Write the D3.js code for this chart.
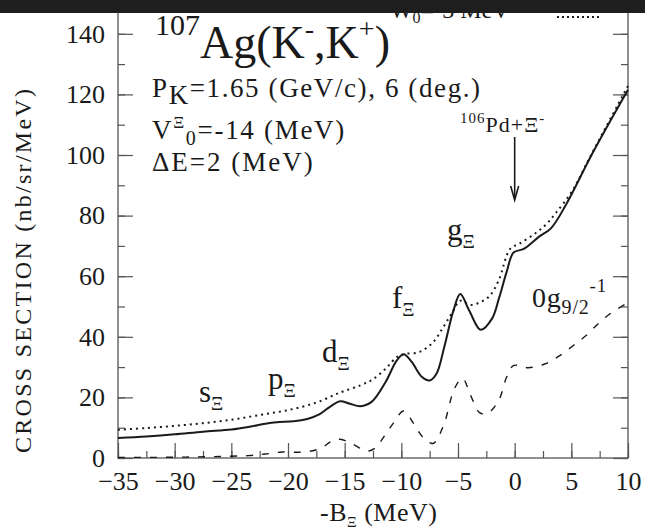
<!DOCTYPE html>
<html>
<head>
<meta charset="utf-8">
<script src="https://cdn.jsdelivr.net/npm/d3@7"></script>
<style>
  html, body { margin: 0; padding: 0; background: #fff; }
  svg { display: block; }
</style>
</head>
<body>
<svg id="chart" width="645" height="529"></svg>
<script>
// Ξ-hypernuclear production spectrum, 107Ag(K-,K+) at 1.65 GeV/c, 6 deg.
const xMajorTicks = [-35, -30, -25, -20, -15, -10, -5, 0, 5, 10];
const yMajorTicks = [0, 20, 40, 60, 80, 100, 120, 140];

// total spectrum (solid), W0 = -3 MeV (dotted), 0g9/2^-1 component (dashed)
const solidX = [-35, -32.5, -30, -27.5, -25, -23.4, -22, -21, -19.5, -18.3, -17.2, -16.3, -15.4, -14.6, -13.6, -12.6, -11.4, -10.4, -9.8, -9.1, -8.2, -7.5, -6.9, -6.2, -5.4, -4.8, -4.0, -3.0, -2.0, -1.4, -0.7, -0.1, 0.8, 2.1, 3.2, 4.5, 6.9, 10];
const solidY = [6.6, 7.1, 7.8, 8.7, 9.4, 10.3, 11.3, 11.8, 12.1, 12.9, 14.5, 16.9, 18.7, 18.0, 17.1, 18.6, 25.0, 32.2, 34.2, 31.8, 26.8, 25.6, 27.8, 36.8, 48.7, 54.1, 48.6, 42.3, 46.0, 52.5, 61.5, 67.8, 69.0, 72.9, 75.8, 83.4, 100.8, 121.5];

const dottedX = [-35, -32.5, -30, -27.5, -25, -22.5, -20, -17.5, -15.4, -13.6, -12.5, -11.3, -10.4, -9.7, -8.4, -7.2, -6.3, -5.5, -4.8, -3.9, -3.0, -2.2, -1.4, -0.4, 0.5, 1.8, 2.7, 3.6, 5.1, 6.7, 10];
const dottedY = [9.3, 9.9, 10.6, 11.5, 12.6, 14.2, 15.8, 18.3, 21.6, 24.0, 26.0, 29.8, 33.3, 34.3, 35.0, 38.2, 43.2, 48.0, 51.9, 50.5, 51.5, 53.5, 58.7, 69.0, 70.9, 74.1, 76.8, 80.7, 88.3, 99.7, 122.8];

const dashedX = [-35, -32, -29, -26, -23.5, -22, -20.5, -19, -17.8, -17, -16.2, -15.4, -14.3, -13, -12.3, -11.5, -10.7, -9.8, -8.9, -8.1, -7.2, -6.3, -5.3, -4.6, -3.9, -3.1, -2.4, -1.4, -0.7, -0.1, 1.2, 2.7, 3.9, 5.2, 6.3, 7.5, 8.6, 10];
const dashedY = [0.2, 0.2, 0.3, 0.5, 0.8, 1.3, 2.0, 1.9, 2.4, 3.4, 5.4, 6.2, 4.6, 2.3, 3.3, 7.2, 11.5, 15.5, 11.3, 6.9, 4.8, 10.5, 23.0, 26.3, 20.8, 15.0, 14.7, 19.1, 26.8, 30.5, 29.8, 31.1, 33.6, 37.2, 40.4, 44.8, 48.1, 51.3];

const svg = d3.select("#chart");
const left = 118, right = 628, bottom = 458;
const x = d3.scaleLinear().domain([-35, 10]).range([left, right]);
const y = d3.scaleLinear().domain([0, 150]).range([bottom, bottom - 150 * 3.03]);

const ink = "#1a1a1a";
const serif = '"Liberation Serif", "Times New Roman", serif';

// frame
svg.append("rect")
  .attr("x", left).attr("y", y(150))
  .attr("width", right - left).attr("height", bottom - y(150))
  .attr("fill", "none").attr("stroke", "#555").attr("stroke-width", 1.3);

// axes: major and minor ticks point inward on all sides
const xMinor = d3.range(-35, 10.01, 2.5);
const yMinor = d3.range(0, 150.01, 10);
function styleAxis(g) {
  g.select(".domain").remove();
  g.selectAll(".tick line").attr("stroke", "#555").attr("stroke-width", 1.2);
  g.selectAll(".tick text").attr("font-size", 26).attr("fill", ink);
}

svg.append("g").attr("transform", `translate(0,${bottom})`)
  .call(d3.axisBottom(x).tickValues(xMinor).tickSize(-7).tickFormat(""))
  .call(styleAxis);
svg.append("g").attr("transform", `translate(0,${bottom})`)
  .call(d3.axisBottom(x).tickValues(xMajorTicks).tickSize(-15).tickPadding(14).tickFormat(d3.format("d")))
  .call(styleAxis);
svg.append("g").attr("transform", `translate(${left},0)`)
  .call(d3.axisLeft(y).tickValues(yMinor).tickSize(-7).tickFormat(""))
  .call(styleAxis);
svg.append("g").attr("transform", `translate(${left},0)`)
  .call(d3.axisLeft(y).tickValues(yMajorTicks).tickSize(-15).tickPadding(13).tickFormat(d3.format("d")))
  .call(styleAxis);
svg.append("g").attr("transform", `translate(${right},0)`)
  .call(d3.axisRight(y).tickValues(yMinor).tickSize(-7).tickFormat(""))
  .call(styleAxis);
svg.append("g").attr("transform", `translate(${right},0)`)
  .call(d3.axisRight(y).tickValues(yMajorTicks).tickSize(-15).tickFormat(""))
  .call(styleAxis);

// curves
const line = d3.line().x(d => x(d[0])).y(d => y(d[1])).curve(d3.curveCatmullRom.alpha(0.5));
const plot = svg.append("g");
plot.append("path").datum(d3.zip(dashedX, dashedY))
  .attr("d", line).attr("fill", "none").attr("stroke", ink)
  .attr("stroke-width", 1.4).attr("stroke-dasharray", "7,9");
plot.append("path").datum(d3.zip(dottedX, dottedY))
  .attr("d", line).attr("fill", "none").attr("stroke", ink)
  .attr("stroke-width", 2).attr("stroke-dasharray", "2,4");
plot.append("path").datum(d3.zip(solidX, solidY))
  .attr("d", line).attr("fill", "none").attr("stroke", ink)
  .attr("stroke-width", 2);

// threshold arrow at -B = 0
const ax = x(0);
svg.append("line").attr("x1", ax).attr("x2", ax).attr("y1", 137).attr("y2", 198)
  .attr("stroke", ink).attr("stroke-width", 1.6);
svg.append("path").attr("d", `M${ax - 4},${186} L${ax},${200} L${ax + 4},${186}`)
  .attr("fill", "none").attr("stroke", ink).attr("stroke-width", 1.6);

// text with sub/superscripts built from tspans
function rich(xp, yp, size, parts, spacing) {
  const t = svg.append("text").attr("x", xp).attr("y", yp).attr("font-size", size)
    .style("letter-spacing", (spacing || 0) + "px");
  let shift = 0;
  parts.forEach(p => {
    const target = p.dy || 0;
    t.append("tspan").attr("dy", target - shift).attr("font-size", p.size || size).text(p.t);
    shift = target;
  });
  return t;
}

// title block
rich(155, 58, 46, [
  {t: "107", size: 30, dy: -23},
  {t: "Ag(K", dy: 0},
  {t: "-", size: 28, dy: -20},
  {t: ",K", dy: 0},
  {t: "+", size: 28, dy: -20},
  {t: ")", dy: 0},
  {t: "W", size: 24, dy: -40},
  {t: "0", size: 16, dy: -35},
  {t: "=-3 MeV", size: 24, dy: -40}
]);
svg.append("line").attr("x1", 557).attr("x2", 602).attr("y1", 17).attr("y2", 17)
  .attr("stroke", ink).attr("stroke-width", 2).attr("stroke-dasharray", "2,3");

rich(152, 97, 27, [{t: "P"}, {t: "K", dy: 7}, {t: "=1.65 (GeV/c), 6 (deg.)", dy: 0}], 1.6);
rich(152, 139, 27, [{t: "V"}, {t: "Ξ", size: 17, dy: -11}, {t: "0", size: 20, dy: 6}, {t: "=-14 (MeV)", dy: 0}], 1.7);
rich(152, 171, 27, [{t: "ΔE=2 (MeV)"}], 2);
rich(460, 132, 22, [{t: "106", size: 15, dy: -9}, {t: "Pd+Ξ", dy: 0}, {t: "-", size: 15, dy: -9}], 1);

// shell labels
const shell = [
  {l: "s", x: 199, y: 402},
  {l: "p", x: 268, y: 389},
  {l: "d", x: 322, y: 362},
  {l: "f", x: 392, y: 308},
  {l: "g", x: 447, y: 240}
];
shell.forEach(s => rich(s.x, s.y, 31, [{t: s.l}, {t: "Ξ", size: 19, dy: 8}]));
rich(532, 307, 28, [{t: "0g"}, {t: "9/2", size: 20, dy: 7}, {t: "-1", size: 19, dy: -15}], 0.8);

// axis titles
svg.append("text").attr("transform", "translate(31,271) rotate(-90)")
  .attr("text-anchor", "middle").attr("font-size", 24)
  .attr("textLength", 364).attr("lengthAdjust", "spacing")
  .text("CROSS SECTION (nb/sr/MeV)");
rich(320, 521, 26, [{t: "-B"}, {t: "Ξ", size: 15, dy: 6}, {t: " (MeV)", dy: 0}], 0.5);

svg.selectAll("text").style("font-family", serif).attr("fill", ink);

// dark strip along the top edge
svg.append("rect").attr("x", 0).attr("y", 0).attr("width", 645).attr("height", 13).attr("fill", "#1e1e1e");
</script>
</body>
</html>
